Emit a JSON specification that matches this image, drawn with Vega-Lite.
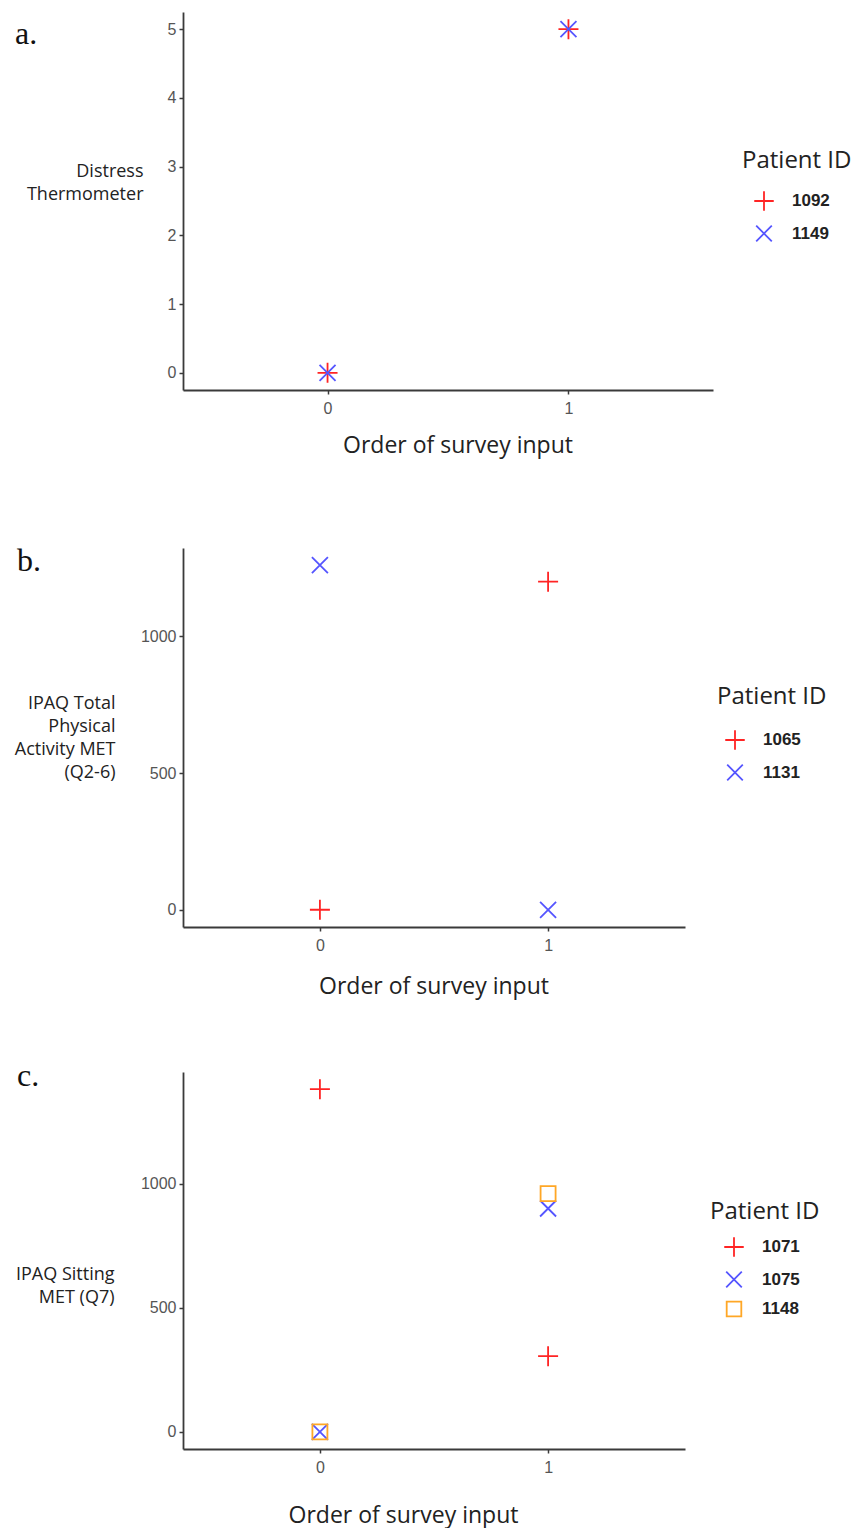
{
  "$schema": "https://vega.github.io/schema/vega-lite/v6.json",
  "padding": {"left": 14, "top": 12, "right": 5, "bottom": 5},
  "autosize": {"type": "pad"},
  "background": "white",
  "config": {
    "view": {"stroke": null},
    "axis": {"grid": false, "domainColor": "#3a3a3a", "domainWidth": 1.8, "tickColor": "#3a3a3a", "tickWidth": 1.5, "tickSize": 4, "labelFont": "Liberation Sans", "labelFontSize": 16, "labelColor": "#555555", "titleFont": "Open Sans", "titleFontWeight": "normal", "titleColor": "#222222"},
    "axisX": {"labelPadding": 6, "titleFontSize": 23, "titleBaseline": "middle"},
    "axisY": {"labelPadding": 3, "titleFontSize": 18, "titleLineHeight": 23, "titleAngle": 0, "titleAlign": "right", "titleBaseline": "middle"},
    "legend": {"orient": "none", "titleFont": "Open Sans", "titleFontSize": 24, "titleFontWeight": "normal", "titleColor": "#222222", "labelFont": "Liberation Sans", "labelFontSize": 17, "labelFontWeight": "bold", "labelColor": "#222222", "symbolSize": 380, "symbolStrokeWidth": 1.8, "rowPadding": 6.5, "labelOffset": 17},
    "title": {"font": "Liberation Serif", "fontSize": 32, "fontWeight": "normal", "anchor": "start", "frame": "group", "color": "#111111", "orient": "top", "offset": 0, "baseline": "alphabetic"}
  },
  "spacing": 158,
  "bounds": "flush",
  "resolve": {"scale": {"x": "independent", "y": "independent", "color": "independent", "shape": "independent"}, "legend": {"color": "independent", "shape": "independent"}},
  "vconcat": [
    {
      "width": 530,
      "height": 378,
      "title": {"text": "a.", "dx": -168, "dy": 43},
      "data": {"values": [
        {"order": 0, "value": 0, "id": "1092"},
        {"order": 1, "value": 5, "id": "1092"},
        {"order": 0, "value": 0, "id": "1149"},
        {"order": 1, "value": 5, "id": "1149"}
      ]},
      "mark": {"type": "point", "filled": false, "size": 400, "strokeWidth": 1.8, "opacity": 1},
      "encoding": {
        "x": {"field": "order", "type": "quantitative", "scale": {"domain": [-0.6, 1.6], "nice": false, "zero": false}, "axis": {"values": [0, 1], "format": "d", "title": "Order of survey input", "titleX": 274.5, "titleY": 55}},
        "y": {"field": "value", "type": "quantitative", "scale": {"domain": [-0.25, 5.25], "nice": false, "zero": false}, "axis": {"values": [0, 1, 2, 3, 4, 5], "title": ["Distress", "Thermometer"], "titleX": -40, "titleY": 159}},
        "color": {"field": "id", "type": "nominal", "title": "Patient ID", "scale": {"range": ["#FF2424", "#5555FF"]}, "legend": {"legendX": 559, "legendY": 137, "titlePadding": 17, "symbolOffset": 11}},
        "shape": {"field": "id", "type": "nominal", "title": "Patient ID", "scale": {"range": ["M-1,0L1,0M0,-1L0,1", "M-0.8,-0.8L0.8,0.8M-0.8,0.8L0.8,-0.8"]}, "legend": {"legendX": 559, "legendY": 137, "titlePadding": 17, "symbolOffset": 11}}
      }
    },
    {
      "spacing": 145,
      "bounds": "flush",
      "resolve": {"scale": {"x": "independent", "y": "independent", "color": "independent", "shape": "independent"}, "legend": {"color": "independent", "shape": "independent"}},
      "vconcat": [
        {
          "width": 502,
          "height": 379,
          "title": {"text": "b.", "dx": -166, "dy": 34},
          "data": {"values": [
            {"order": 0, "value": 0, "id": "1065"},
            {"order": 1, "value": 1200, "id": "1065"},
            {"order": 0, "value": 1260, "id": "1131"},
            {"order": 1, "value": 0, "id": "1131"}
          ]},
          "mark": {"type": "point", "filled": false, "size": 400, "strokeWidth": 1.8, "opacity": 1},
          "encoding": {
            "x": {"field": "order", "type": "quantitative", "scale": {"domain": [-0.6, 1.6], "nice": false, "zero": false}, "axis": {"values": [0, 1], "format": "d", "title": "Order of survey input", "titleX": 250.5, "titleY": 59}},
            "y": {"field": "value", "type": "quantitative", "scale": {"domain": [-63, 1323], "nice": false, "zero": false}, "axis": {"values": [0, 500, 1000], "format": "d", "title": ["IPAQ Total", "Physical", "Activity MET", "(Q2-6)"], "titleX": -68, "titleY": 155}},
            "color": {"field": "id", "type": "nominal", "title": "Patient ID", "scale": {"range": ["#FF2424", "#5555FF"]}, "legend": {"legendX": 534, "legendY": 137, "titlePadding": 20, "symbolOffset": 7}},
            "shape": {"field": "id", "type": "nominal", "title": "Patient ID", "scale": {"range": ["M-1,0L1,0M0,-1L0,1", "M-0.8,-0.8L0.8,0.8M-0.8,0.8L0.8,-0.8"]}, "legend": {"legendX": 534, "legendY": 137, "titlePadding": 20, "symbolOffset": 7}}
          }
        },
        {
          "width": 502,
          "height": 377,
          "title": {"text": "c.", "dx": -166, "dy": 25},
          "data": {"values": [
            {"order": 0, "value": 1381, "id": "1071"},
            {"order": 1, "value": 305, "id": "1071"},
            {"order": 0, "value": 0, "id": "1075"},
            {"order": 1, "value": 900, "id": "1075"},
            {"order": 0, "value": 0, "id": "1148"},
            {"order": 1, "value": 960, "id": "1148"}
          ]},
          "mark": {"type": "point", "filled": false, "size": 400, "strokeWidth": 1.8, "opacity": 1},
          "encoding": {
            "x": {"field": "order", "type": "quantitative", "scale": {"domain": [-0.6, 1.6], "nice": false, "zero": false}, "axis": {"values": [0, 1], "format": "d", "title": "Order of survey input", "titleX": 220, "titleY": 66}},
            "y": {"field": "value", "type": "quantitative", "scale": {"domain": [-69, 1450], "nice": false, "zero": false}, "axis": {"values": [0, 500, 1000], "format": "d", "title": ["IPAQ Sitting", "MET (Q7)"], "titleX": -69, "titleY": 202}},
            "color": {"field": "id", "type": "nominal", "title": "Patient ID", "scale": {"range": ["#FF2424", "#5555FF", "#FFA726"]}, "legend": {"legendX": 527, "legendY": 128, "titlePadding": 12, "symbolOffset": 13}},
            "shape": {"field": "id", "type": "nominal", "title": "Patient ID", "scale": {"range": ["M-1,0L1,0M0,-1L0,1", "M-0.8,-0.8L0.8,0.8M-0.8,0.8L0.8,-0.8", "M-0.75,-0.75L0.75,-0.75L0.75,0.75L-0.75,0.75Z"]}, "legend": {"legendX": 527, "legendY": 128, "titlePadding": 12, "symbolOffset": 13}}
          }
        }
      ]
    }
  ]
}
